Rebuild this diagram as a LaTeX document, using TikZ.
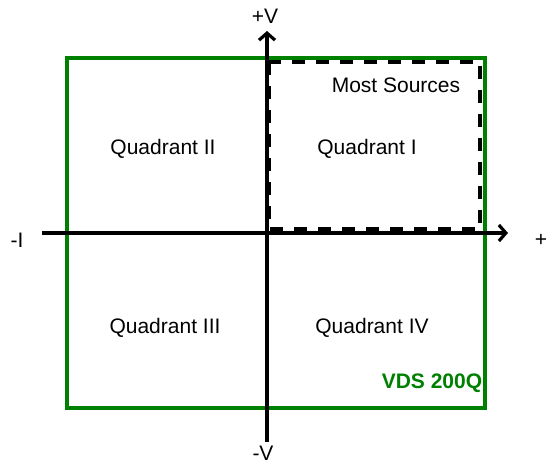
\documentclass[tikz,border=0pt]{standalone}
\usepackage{fontspec}
\setmainfont{Liberation Sans}
\usetikzlibrary{arrows.meta}
\definecolor{vgreen}{RGB}{0,128,0}
\begin{document}
\begin{tikzpicture}[x=1pt,y=-1pt,
  lbl/.style={inner sep=0pt,font=\fontsize{21}{25}\selectfont},
  axis/.style={line width=3.2pt,-{Straight Barb[length=7pt,width=16pt,line width=3.2pt]}},
  frame/.style={draw=vgreen,line width=3.2pt},
  dashbox/.style={draw=black,line width=3.2pt,dash pattern=on 13pt off 11pt}]
\useasboundingbox (0,0) rectangle (548,465);
\draw[frame] (67,58) rectangle (485,408);
\draw[dashbox] (269,62) rectangle (480,229);
\coordinate (xs) at (42,233);
\coordinate (xe) at (508,233);
\coordinate (ys) at (267,442);
\coordinate (ye) at (267,31);
\draw[axis] (xs) -- (xe);
\draw[axis] (ys) -- (ye);
\node[lbl] (pv) at (265,16) {+V};
\node[lbl] (mv) at (263,453) {-V};
\node[lbl] (mi) at (17,240) {-I};
\node[lbl] (pi) at (541,240) {+};
\node[lbl] (ms) at (396,85) {Most Sources};
\node[lbl] (q2) at (163,149) {Quadrant II};
\node[lbl] (q1) at (367,149) {Quadrant I};
\node[lbl] (q3) at (165,328) {Quadrant III};
\node[lbl] (q4) at (372,328) {Quadrant IV};
\node[lbl,text=vgreen,font=\fontsize{21}{25}\selectfont\bfseries] (vds) at (432,383) {VDS 200Q};
\end{tikzpicture}
\end{document}
